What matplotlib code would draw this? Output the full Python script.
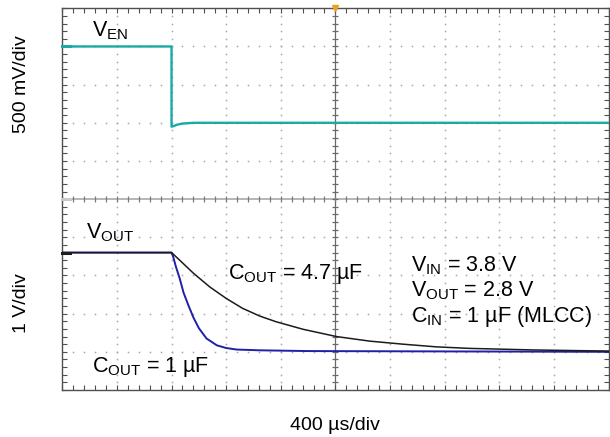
import matplotlib
matplotlib.use("Agg")
import matplotlib.pyplot as plt
import numpy as np

plt.rcParams['font.family'] = ['Liberation Sans', 'DejaVu Sans']
plt.rcParams['mathtext.fontset'] = 'custom'
plt.rcParams['mathtext.rm'] = 'Liberation Sans'
plt.rcParams['mathtext.it'] = 'Liberation Sans:italic'
plt.rcParams['mathtext.bf'] = 'Liberation Sans:bold'

# ---- data (screen divisions: x 0..10 at 400 us/div, y 0..10) ----
t_en = [0.0, 2.0, 2.0, 2.03, 2.1, 2.2, 2.4, 10.0]
v_en = [9.0, 9.0, 6.90, 6.91, 6.95, 6.98, 7.0, 7.0]

t_c1 = [0.0, 2.0, 2.03, 2.08, 2.15, 2.22, 2.30, 2.40, 2.50, 2.64, 2.83, 3.0, 3.19, 3.61, 4.5, 10.0]
v_c1 = [3.6, 3.6, 3.49, 3.23, 2.92, 2.55, 2.25, 1.90, 1.62, 1.35, 1.17, 1.10, 1.06, 1.04, 1.02, 1.0]

t_c47 = [0.0, 2.0, 2.15, 2.40, 2.70, 3.0, 3.30, 3.61, 3.91, 4.41, 5.02, 5.63, 6.24, 6.85, 7.46, 8.6, 9.5, 10.0]
v_c47 = [3.6, 3.6, 3.40, 3.06, 2.70, 2.40, 2.14, 1.94, 1.79, 1.59, 1.40, 1.28, 1.20, 1.13, 1.09, 1.05, 1.03, 1.02]

MU = '\u00b5'
x_label = '400 ' + MU + 's/div'
y_label_top = '500 mV/div'
y_label_bottom = '1 V/div'

W, H = 610, 437
fig = plt.figure(figsize=(W / 100, H / 100), dpi=100)
L, T, R, B = 62.3, 8.3, 608.5, 390.0
ax = fig.add_axes([L / W, (H - B) / H, (R - L) / W, (B - T) / H])
ax.set_xlim(0, 10)
ax.set_ylim(0, 10)

# dotted graticule
grid_c = '#a8a8a8'
fine = np.arange(0, 10.001, 0.2)
for k in range(1, 10):
    if k == 5:
        continue
    ax.plot(fine, np.full_like(fine, k), ls='none', marker='s', ms=1.1, mew=0, color=grid_c, zorder=1)
    ax.plot(np.full_like(fine, k), fine, ls='none', marker='s', ms=1.1, mew=0, color=grid_c, zorder=1)

# center cross with ticks
ax.axvline(5, color='#6a6a6a', lw=0.9, zorder=1.5)
ax.axhline(5, color='#b5b5b5', lw=1.4, zorder=1.5)
ax.plot(np.full_like(fine, 5), fine, ls='none', marker='_', ms=5, mew=0.9, color='#6a6a6a', zorder=1.5)
ax.plot(fine, np.full_like(fine, 5), ls='none', marker='|', ms=5, mew=0.9, color='#7a7a7a', zorder=1.5)

# traces
ax.plot(t_en, v_en, color='#1aaaa4', lw=1.7, zorder=3)
ax.plot(t_c1, v_c1, color='#1f1fa8', lw=1.4, zorder=3)
ax.plot(t_c47, v_c47, color='#1c1c1c', lw=1.1, zorder=4)

# frame & ticks
for s in ax.spines.values():
    s.set_color('#505050')
    s.set_linewidth(1.0)
ax.set_xticks(np.arange(0, 11, 1))
ax.set_yticks(np.arange(0, 11, 1))
ax.set_xticks(fine, minor=True)
ax.set_yticks(fine, minor=True)
ax.tick_params(which='both', direction='in', length=3.5, width=0.8, color='#505050',
               top=True, right=True, labelbottom=False, labelleft=False)

# channel markers
ax.plot([0, 0.15], [9, 9], color='#1aaaa4', lw=2.2, clip_on=False, zorder=5)
ax.plot([0, 0.15], [3.6, 3.6], color='#1c1c1c', lw=2.2, clip_on=False, zorder=5)
ax.plot([0, 0.15], [5, 5], color='#c8c8c8', lw=2.2, clip_on=False, zorder=5)
ax.plot([5], [10], marker='v', ms=5, color='#f0a020', clip_on=False, zorder=6)

# annotations
fs = 15.5
ax.text(0.54, 9.26, '$\\mathregular{V_{EN}}$', fontsize=fs, va='baseline', ha='left')
ax.text(0.43, 3.97, '$\\mathregular{V_{OUT}}$', fontsize=fs, va='baseline', ha='left')
ax.text(3.03, 2.90, '$\\mathregular{C_{OUT}}$ = 4.7 ' + MU + 'F', fontsize=fs, va='baseline', ha='left')
ax.text(0.54, 0.48, '$\\mathregular{C_{OUT}}$ = 1 ' + MU + 'F', fontsize=fs, va='baseline', ha='left')
ax.text(6.38, 3.10, '$\\mathregular{V_{IN}}$ = 3.8 V', fontsize=fs, va='baseline', ha='left')
ax.text(6.38, 2.46, '$\\mathregular{V_{OUT}}$ = 2.8 V', fontsize=fs, va='baseline', ha='left')
ax.text(6.38, 1.77, '$\\mathregular{C_{IN}}$ = 1 ' + MU + 'F (MLCC)', fontsize=fs, va='baseline', ha='left')

fig.text(22 / W, 1 - 84 / H, y_label_top, rotation=90, ha='center', va='center', fontsize=14)
fig.text(22 / W, 1 - 303 / H, y_label_bottom, rotation=90, ha='center', va='center', fontsize=14)
fig.text(335 / W, 1 - 426 / H, x_label, ha='center', va='center', fontsize=14)

fig.savefig('out.png', dpi=100)
